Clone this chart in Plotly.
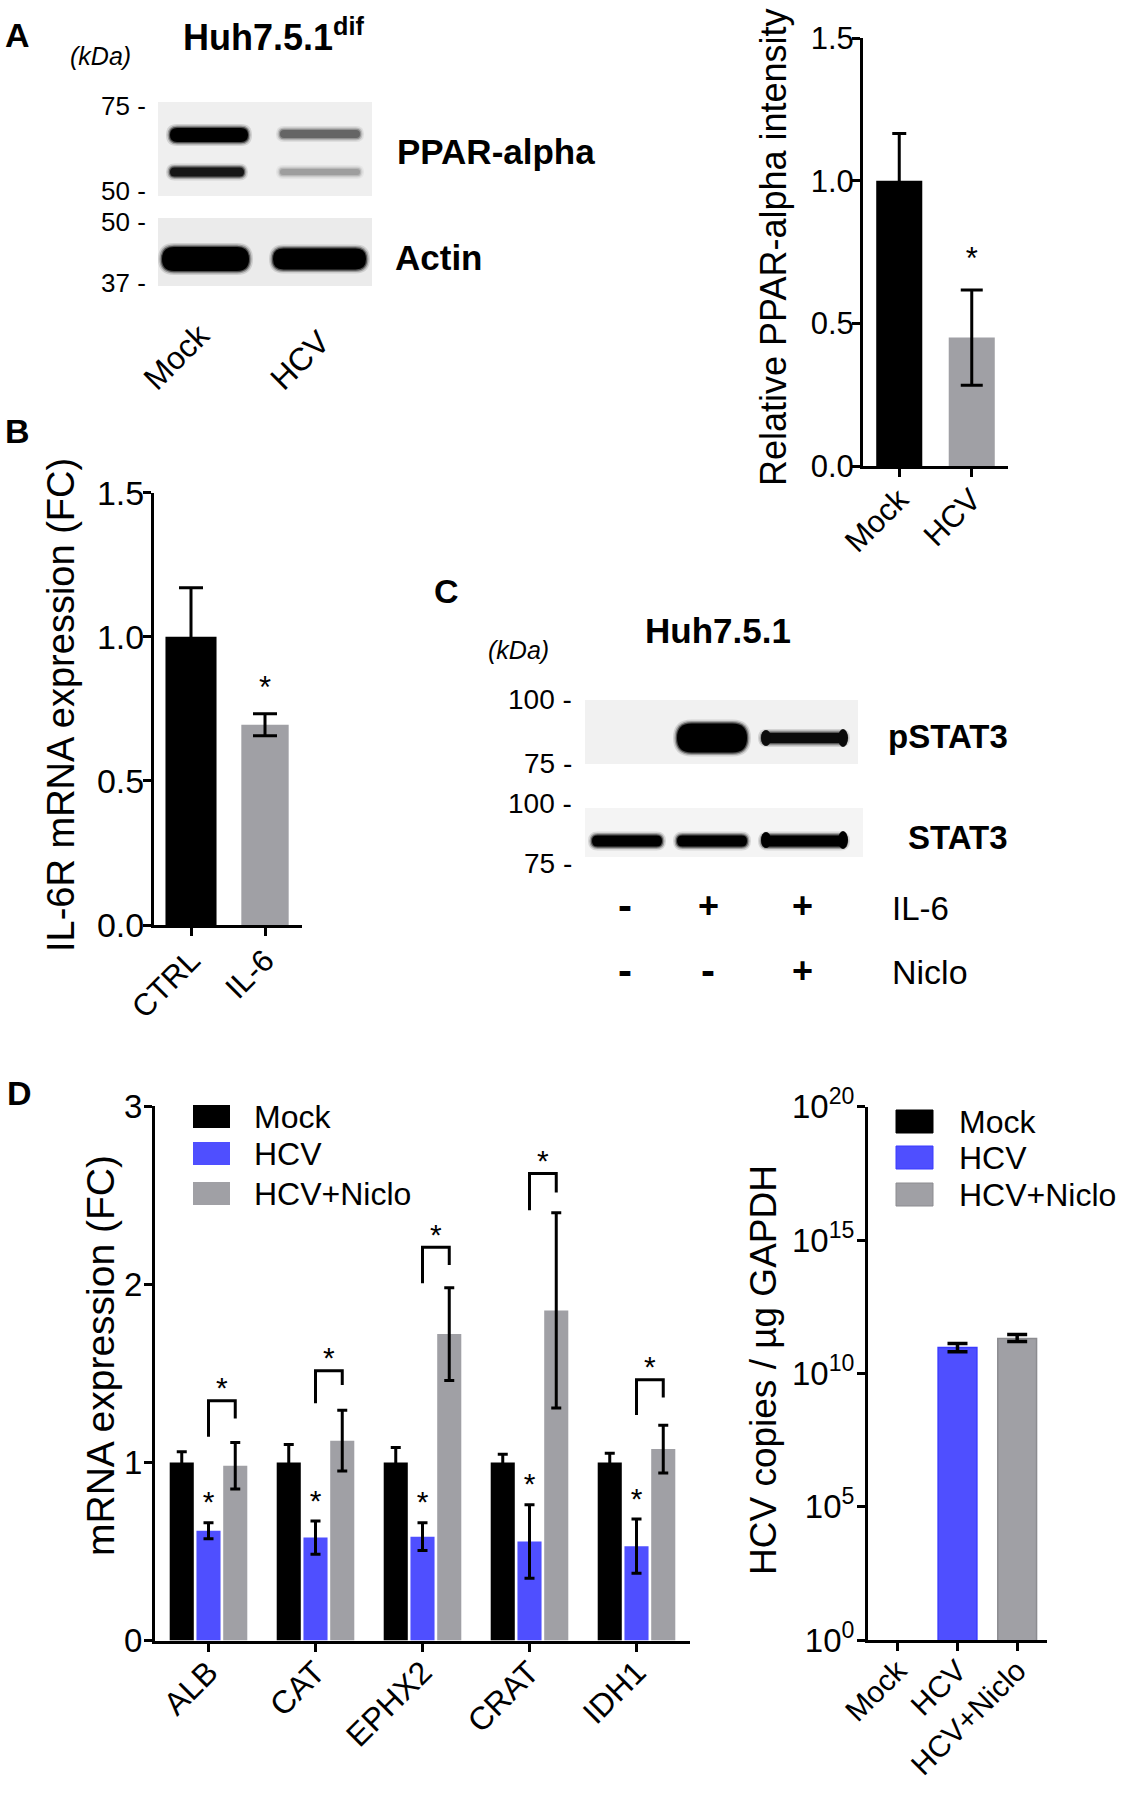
import plotly.graph_objects as go

W, H = 1122, 1800
FONT = 'Liberation Sans, Arial, Helvetica, sans-serif'
BLACK = '#000000'
GREY = '#a0a0a5'
BLUE = '#4f4fff'

# ---------- data ----------
ppar_groups = ['Mock', 'HCV']
ppar_mean = [1.0, 0.45]
ppar_sem = [0.165, 0.167]

il6r_groups = ['CTRL', 'IL-6']
il6r_mean = [1.0, 0.695]
il6r_sem = [0.17, 0.038]

genes = ['ALB', 'CAT', 'EPHX2', 'CRAT', 'IDH1']
mock_fc = [1.0, 1.0, 1.0, 1.0, 1.0]
mock_sem = [0.06, 0.10, 0.083, 0.046, 0.051]
hcv_fc = [0.617, 0.578, 0.583, 0.556, 0.53]
hcv_sem = [0.045, 0.093, 0.078, 0.206, 0.152]
niclo_fc = [0.981, 1.122, 1.72, 1.853, 1.075]
niclo_sem = [0.13, 0.17, 0.26, 0.548, 0.134]
bracket_top = [1.346, 1.515, 2.207, 2.621, 1.464]
bracket_left = [1.144, 1.332, 2.005, 2.415, 1.266]
bracket_right = [1.247, 1.434, 2.108, 2.515, 1.364]

copies_groups = ['Mock', 'HCV', 'HCV+Niclo']
copies_mean = [None, 9.4e10, 2.04e11]
copies_up = [0, 3.9e10, 0.84e11]
copies_down = [0, 3.0e10, 0.49e11]
copies_tickvals = [1, 1e5, 1e10, 1e15, 1e20]
copies_ticktext = ['10<sup>0</sup>', '10<sup>5</sup>', '10<sup>10</sup>',
                   '10<sup>15</sup>', '10<sup>20</sup>']

legend_names = ['Mock', 'HCV', 'HCV+Niclo']

# western blot band strength (0 = nothing, 1 = saturated)
ppar_upper = [1.0, 0.55]
ppar_lower = [0.9, 0.3]
actin = [1.0, 1.0]
il6_treat = ['-', '+', '+']
niclo_treat = ['-', '-', '+']
pstat3 = [0.0, 1.0, 0.95]
stat3 = [1.0, 1.0, 1.0]

shapes = []
annotations = []


def X(p):
    return p / W


def Y(p):
    return 1 - p / H


def P(x, y):
    return '{:.5f},{:.5f}'.format(X(x), Y(y))


def text(s, x, y, size, xanchor='center', yanchor='middle', angle=0, bold=False, italic=False):
    if bold:
        s = '<b>' + s + '</b>'
    if italic:
        s = '<i>' + s + '</i>'
    annotations.append(dict(text=s, x=X(x), y=Y(y), xref='paper', yref='paper', showarrow=False,
                            xanchor=xanchor, yanchor=yanchor, textangle=angle,
                            font=dict(size=size, color='black', family=FONT)))


def rect(x0, y0, x1, y1, color, line=None):
    shapes.append(dict(type='rect', xref='paper', yref='paper', x0=X(x0), x1=X(x1),
                       y0=Y(y1), y1=Y(y0), fillcolor=color,
                       line=dict(width=1 if line else 0, color=line or color)))


def band(x0, x1, yc, th, strength):
    # soft edged, round ended blot band
    if strength <= 0:
        return
    g = int(round(225 * (1 - strength)))
    col = 'rgb({0},{0},{0})'.format(g)
    for grow, op in ((4, 0.12), (2.5, 0.25), (1.2, 0.5), (0, 1.0)):
        a, b = x0 - grow, x1 + grow
        h = th / 2 + grow
        r = min(h, (b - a) / 2)
        path = ('M' + P(a + r, yc - h) + ' L' + P(b - r, yc - h) + ' Q' + P(b, yc - h) + ' ' + P(b, yc)
                + ' Q' + P(b, yc + h) + ' ' + P(b - r, yc + h) + ' L' + P(a + r, yc + h)
                + ' Q' + P(a, yc + h) + ' ' + P(a, yc) + ' Q' + P(a, yc - h) + ' ' + P(a + r, yc - h) + ' Z')
        shapes.append(dict(type='path', xref='paper', yref='paper', path=path, fillcolor=col,
                           opacity=op, line=dict(width=0)))


def blob(xc, yc, rx, ry, strength):
    g = int(round(225 * (1 - strength)))
    shapes.append(dict(type='circle', xref='paper', yref='paper', x0=X(xc - rx), x1=X(xc + rx),
                       y0=Y(yc + ry), y1=Y(yc - ry), fillcolor='rgb({0},{0},{0})'.format(g),
                       line=dict(width=0)))


def stars(xs, ys, xa, ya, size):
    fig.add_trace(go.Scatter(x=xs, y=ys, mode='text', text=['*'] * len(xs),
                             textposition='middle center', hoverinfo='skip',
                             textfont=dict(size=size, color='black', family=FONT),
                             xaxis=xa, yaxis=ya))


fig = go.Figure()

# ---------- A: quantification ----------
for i, g in enumerate(ppar_groups):
    fig.add_trace(go.Bar(x=[g], y=[ppar_mean[i]], width=0.635,
                         marker=dict(color=[BLACK, GREY][i], line_width=0),
                         error_y=dict(type='data', array=[ppar_sem[i]], color='black',
                                      thickness=3, width=[7, 11][i]),
                         xaxis='x', yaxis='y'))
stars(['HCV'], [ppar_mean[1] + ppar_sem[1] + 0.10], 'x', 'y', 31)

# ---------- B ----------
for i, g in enumerate(il6r_groups):
    fig.add_trace(go.Bar(x=[g], y=[il6r_mean[i]], width=[0.69, 0.64][i],
                         marker=dict(color=[BLACK, GREY][i], line_width=0),
                         error_y=dict(type='data', array=[il6r_sem[i]], color='black',
                                      thickness=3, width=12),
                         xaxis='x2', yaxis='y2'))
stars(['IL-6'], [il6r_mean[1] + il6r_sem[1] + 0.083], 'x2', 'y2', 31)

# ---------- D left ----------
offsets = [-0.25, 0.0, 0.25]
series = [(mock_fc, mock_sem, BLACK), (hcv_fc, hcv_sem, BLUE), (niclo_fc, niclo_sem, GREY)]
for (vals, sem, col), off in zip(series, offsets):
    fig.add_trace(go.Bar(x=[i + off for i in range(len(genes))], y=vals, width=0.225,
                         marker=dict(color=col, line_width=0),
                         error_y=dict(type='data', array=sem, color='black', thickness=3, width=5),
                         xaxis='x3', yaxis='y3'))
for i in range(len(genes)):
    fig.add_trace(go.Scatter(x=[i, i, i + 0.25, i + 0.25],
                             y=[bracket_left[i], bracket_top[i], bracket_top[i], bracket_right[i]],
                             mode='lines', line=dict(color='black', width=3),
                             xaxis='x3', yaxis='y3', hoverinfo='skip'))
stars([i + 0.125 for i in range(len(genes))], [t + 0.055 for t in bracket_top], 'x3', 'y3', 30)
stars(list(range(len(genes))), [m + s + 0.10 for m, s in zip(hcv_fc, hcv_sem)], 'x3', 'y3', 30)

# ---------- D right ----------
fig.add_trace(go.Bar(x=copies_groups, y=copies_mean, width=0.65,
                     marker=dict(color=[BLACK, BLUE, GREY], line=dict(width=1.5, color=['#000', '#3a3aff', '#8c8c90'])),
                     error_y=dict(type='data', symmetric=False, array=copies_up, arrayminus=copies_down,
                                  color='black', thickness=3.5, width=10),
                     xaxis='x4', yaxis='y4'))

# ---------- blots ----------
# A
rect(158, 102, 372, 196, '#efefef')
rect(158, 218, 372, 286, '#ebebeb')
band(170, 248, 135, 14, ppar_upper[0])
band(280, 360, 134, 8, ppar_upper[1])
band(170, 244, 172, 9, ppar_lower[0])
band(280, 360, 172, 6, ppar_lower[1])
band(162, 249, 259, 24, actin[0])
band(273, 366, 259, 21, actin[1])
# C
rect(585, 700, 858, 764, '#f1f1f1')
rect(585, 808, 863, 857, '#f4f4f4')
lane_x = [(592, 662), (677, 747), (762, 846)]
band(lane_x[1][0], lane_x[1][1], 738, 29, pstat3[1])
band(lane_x[2][0], lane_x[2][1], 738, 10, pstat3[2])
blob(766, 738, 5, 8, pstat3[2])
blob(843, 738, 5, 9, pstat3[2])
for j in range(3):
    band(lane_x[j][0], lane_x[j][1], 841, 11, stat3[j])
blob(766, 840, 5, 8, stat3[2])
blob(843, 840, 5, 9, stat3[2])

# ---------- legends ----------
leg_cols = [BLACK, BLUE, GREY]
leg_lines = ['#000', '#3a3aff', '#8c8c90']
for k, name in enumerate(legend_names):
    y0 = [1105, 1142, 1182][k]
    rect(193, y0, 230, y0 + 23, leg_cols[k])
    text(name, 252, y0 + 12, 32, xanchor='left')
    y1 = [1110, 1146, 1183][k]
    rect(896, y1, 933, y1 + 23, leg_cols[k], line=leg_lines[k])
    text(name, 957, y1 + 12, 32, xanchor='left')

# ---------- texts ----------
text('A', 17, 35, 34, bold=True)
text('B', 17, 431, 34, bold=True)
text('C', 446, 591, 34, bold=True)
text('D', 19, 1093, 34, bold=True)

text('(kDa)', 100, 56, 25, italic=True)
text('Huh7.5.1<sup>dif</sup>', 181, 35, 36, xanchor='left', bold=True)
for lab, yy in zip(['75 -', '50 -', '50 -', '37 -'], [106, 191, 222, 283]):
    text(lab, 148, yy, 26, xanchor='right')
text('PPAR-alpha', 395, 152, 35, xanchor='left', bold=True)
text('Actin', 393, 257, 35, xanchor='left', bold=True)
text('Mock', 176, 357, 32, angle=-45)
text('HCV', 300, 360, 32, angle=-45)

text('Huh7.5.1', 718, 630, 35, bold=True)
text('(kDa)', 518, 650, 25, italic=True)
for lab, yy in zip(['100 -', '75 -', '100 -', '75 -'], [700, 763, 803, 863]):
    text(lab, 574, yy, 28, xanchor='right')
text('pSTAT3', 1010, 736, 33, xanchor='right', bold=True)
text('STAT3', 1010, 838, 33, xanchor='right', bold=True)
for j, xx in enumerate([625, 708, 802]):
    text(il6_treat[j], xx, 906, 42 if il6_treat[j] == '-' else 36, bold=True)
    text(niclo_treat[j], xx, 970, 42 if niclo_treat[j] == '-' else 36, bold=True)
text('IL-6', 890, 908, 33, xanchor='left')
text('Niclo', 890, 972, 34, xanchor='left')

text('Relative PPAR-alpha intensity', 773, 247, 36, angle=-90)
text('IL-6R mRNA expression (FC)', 61, 705, 38, angle=-90)
text('mRNA expression (FC)', 100, 1356, 39, angle=-90)
text('HCV copies / µg GAPDH', 763, 1370, 37, angle=-90)

# ---------- axes ----------
base = dict(showline=True, linecolor='black', linewidth=3, ticks='outside', ticklen=8,
            tickwidth=3, tickcolor='black', showgrid=False, zeroline=False, automargin=False,
            fixedrange=True, tickfont=dict(size=32, color='black', family=FONT))


def dom_x(a, b):
    return [a / W, b / W]


def dom_y(top, bottom):
    return [1 - bottom / H, 1 - top / H]


fig.update_layout(
    template='none',
    width=W, height=H, autosize=False,
    margin=dict(l=0, r=0, t=0, b=0, pad=0),
    paper_bgcolor='white', plot_bgcolor='rgba(0,0,0,0)',
    showlegend=False, barmode='overlay',
    font=dict(family=FONT, color='black'),
    xaxis=dict(base, domain=dom_x(863, 1008), anchor='y', range=[-0.5, 1.5], tickangle=-45,
               ticklabelstandoff=-8, tickfont=dict(size=31, color='black', family=FONT)),
    yaxis=dict(base, domain=dom_y(38, 466), anchor='x', range=[0, 1.5], ticklabelstandoff=-8,
               tickvals=[0, 0.5, 1, 1.5], ticktext=['0.0', '0.5', '1.0', '1.5'],
               tickfont=dict(size=31, color='black', family=FONT)),
    xaxis2=dict(base, domain=dom_x(154, 302), anchor='y2', range=[-0.5, 1.5], tickangle=-45,
                ticklabelstandoff=-6, tickfont=dict(size=31, color='black', family=FONT)),
    yaxis2=dict(base, domain=dom_y(492.7, 925), anchor='x2', range=[0, 1.5], ticklabelstandoff=-8,
                tickvals=[0, 0.5, 1, 1.5], ticktext=['0.0', '0.5', '1.0', '1.5'],
                tickfont=dict(size=34, color='black', family=FONT)),
    xaxis3=dict(base, domain=dom_x(155, 690), anchor='y3', range=[-0.5, 4.5], tickangle=-45,
                tickvals=list(range(len(genes))), ticktext=genes, ticklabelstandoff=-11,
                tickfont=dict(size=32, color='black', family=FONT)),
    yaxis3=dict(base, domain=dom_y(1106, 1640.6), anchor='x3', range=[0, 3], dtick=1,
                ticklabelstandoff=-5, tickfont=dict(size=33, color='black', family=FONT)),
    xaxis4=dict(base, domain=dom_x(868, 1047), anchor='y4', range=[-0.5, 2.5], tickangle=-45,
                categoryorder='array', categoryarray=copies_groups, ticklabelstandoff=-10,
                tickfont=dict(size=30, color='black', family=FONT)),
    yaxis4=dict(base, domain=dom_y(1106.7, 1640), anchor='x4', type='log', range=[0, 20],
                tickvals=copies_tickvals, ticktext=copies_ticktext, ticklabelstandoff=-4,
                tickfont=dict(size=33, color='black', family=FONT)),
    shapes=shapes,
    annotations=annotations,
)

fig.write_html('out.html', config={'displayModeBar': False},
               post_script="document.body.style.margin='0';")
